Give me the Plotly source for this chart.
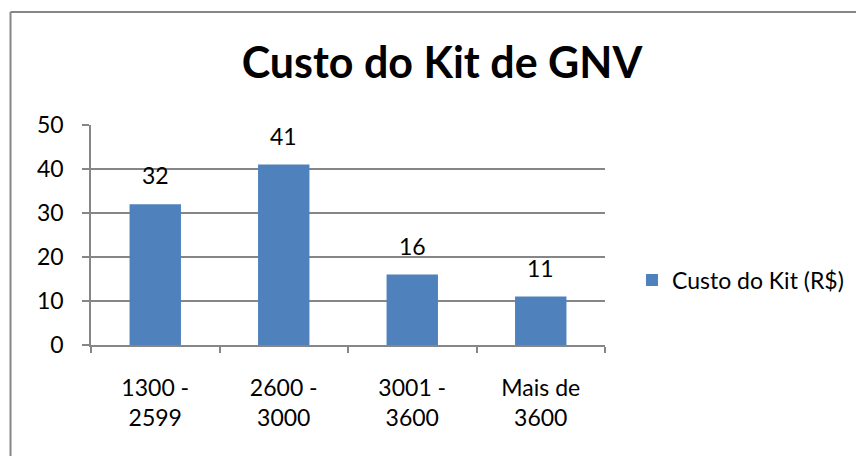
import plotly.graph_objects as go

categories = ["1300 -<br>2599", "2600 -<br>3000", "3001 -<br>3600", "Mais de<br>3600"]
valores = [32, 41, 16, 11]
serie_nome = "Custo do Kit (R$)"
titulo = "Custo do Kit de GNV"
y_ticks = [0, 10, 20, 30, 40, 50]

FONT = "Lato"
GRAY = "#868686"
BLUE = "#4F81BD"

fig = go.Figure()
fig.add_trace(go.Bar(
    x=categories, y=valores, name=serie_nome,
    marker=dict(color=BLUE, line=dict(width=0)),
    showlegend=True,
))

# rótulos de dados acima das barras
for c, v in zip(categories, valores):
    fig.add_annotation(x=c, y=v, text=str(v), showarrow=False,
                       yanchor="bottom", yshift=13,
                       font=dict(family=FONT, size=23, color="black"))

# borda da área do gráfico (só esquerda e topo visíveis)
fig.add_shape(type="line", xref="paper", yref="paper",
              x0=-0.1566, x1=1.6, y0=1.5136, y1=1.5136,
              line=dict(color=GRAY, width=2))
fig.add_shape(type="line", xref="paper", yref="paper",
              x0=-0.1566, x1=-0.1566, y0=-0.6, y1=1.5136,
              line=dict(color=GRAY, width=2))

fig.update_layout(
    width=864, height=456,
    margin=dict(l=83, r=267, t=117, b=119),
    paper_bgcolor="white", plot_bgcolor="white",
    bargap=0.6,
    title=dict(text="<b>" + titulo + "</b>", x=434 / 864, xref="container",
               xanchor="center",
               y=1 - 55 / 456, yref="container", yanchor="middle",
               font=dict(family=FONT, size=43, color="black")),
    font=dict(family=FONT, size=23, color="black"),
    legend=dict(x=1.0525, y=0.295, xanchor="left", yanchor="middle",
                font=dict(family=FONT, size=23, color="black")),
    xaxis=dict(showline=True, linecolor=GRAY, linewidth=1.5,
               ticks="outside", tickson="boundaries", ticklen=6,
               tickcolor=GRAY, tickwidth=1.5, ticklabelstandoff=22,
               showgrid=False, fixedrange=True),
    yaxis=dict(range=[0, 50], tickvals=y_ticks, showline=True,
               linecolor=GRAY, linewidth=1.5, ticks="outside", ticklen=7,
               tickcolor=GRAY, tickwidth=1.5, showgrid=True,
               gridcolor=GRAY, gridwidth=1.5, zeroline=False,
               ticklabelstandoff=14),
)

fig.write_html("out.html")
